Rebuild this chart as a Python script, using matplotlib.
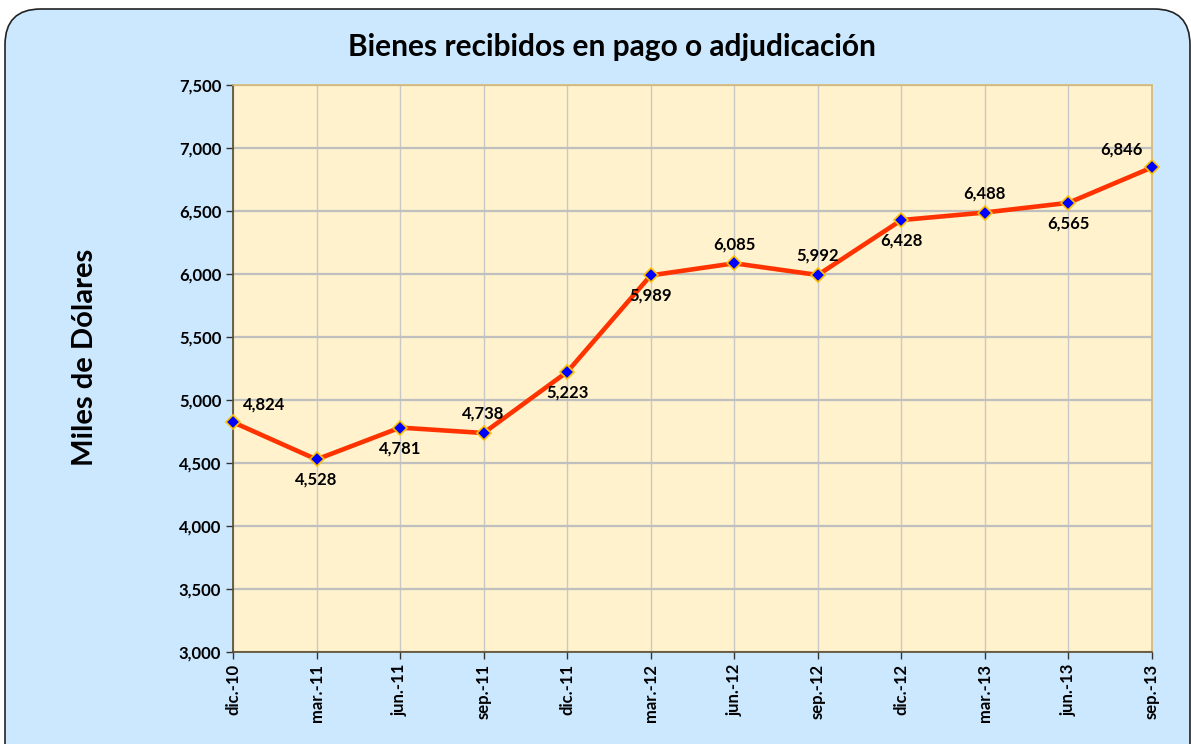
import matplotlib.pyplot as plt
from matplotlib.patches import FancyBboxPatch

periods = ["dic.-10", "mar.-11", "jun.-11", "sep.-11", "dic.-11", "mar.-12",
           "jun.-12", "sep.-12", "dic.-12", "mar.-13", "jun.-13", "sep.-13"]
values = [4824, 4528, 4781, 4738, 5223, 5989, 6085, 5992, 6428, 6488, 6565, 6846]
# where each value label sits relative to its point
label_pos = ["ur", "b", "b", "a", "b", "b", "a", "a", "b", "a", "b", "ul"]

plt.rcParams['font.family'] = ['Lato', 'DejaVu Sans']
plt.rcParams['font.weight'] = 'bold'

fig = plt.figure(figsize=(11.91, 7.44), dpi=100)

# rounded light-blue panel behind everything
panel = FancyBboxPatch((5 / 1191, -0.05), 1185 / 1191, 0.05 + 735 / 744,
                       boxstyle="round,pad=0,rounding_size=0.03",
                       transform=fig.transFigure, facecolor="#cce8ff",
                       edgecolor="#222222", linewidth=1.2, zorder=0,
                       mutation_aspect=1191 / 744)
fig.patches.append(panel)

ax = fig.add_axes([233 / 1191, 92 / 744, 919 / 1191, 567 / 744])
ax.set_zorder(2)
ax.set_facecolor("#fff2cc")

x = list(range(len(values)))
ax.plot(x, values, color="#ff3300", linewidth=3.3, zorder=3, clip_on=False,
        marker="D", markersize=7.5, markerfacecolor="#0000ff",
        markeredgecolor="#ffc000", markeredgewidth=1.2)

offsets = {"a": (0, 8, "center", "bottom"), "b": (0, -9, "center", "top"),
           "ur": (7, 7, "left", "bottom"), "ul": (-7, 7, "right", "bottom")}
for xi, v, p in zip(x, values, label_pos):
    dx, dy, ha, va = offsets[p]
    ax.annotate(f"{v:,}", (xi, v), xytext=(dx, dy), textcoords="offset points",
                ha=ha, va=va, fontsize=12, fontweight="bold", zorder=4)

ax.set_xlim(0, len(values) - 1)
ax.set_ylim(3000, 7500)
ax.set_yticks(range(3000, 7501, 500))
ax.set_yticklabels([f"{t:,}" for t in range(3000, 7501, 500)])
ax.set_xticks(x)
ax.set_xticklabels(periods, rotation=90)
ax.tick_params(axis="both", labelsize=12, length=5, width=1, color="#333333")

ax.grid(axis="y", color="#bfbfbf", linewidth=1.6)
ax.grid(axis="x", color="#c8c8c8", linewidth=1)
ax.set_axisbelow(True)

for side in ["left", "bottom"]:
    ax.spines[side].set_color("#5a4a2a")
    ax.spines[side].set_linewidth(1.2)
for side in ["top", "right"]:
    ax.spines[side].set_color("#d9b872")
    ax.spines[side].set_linewidth(1.2)

fig.text(612 / 1191, 1 - 47 / 744, "Bienes recibidos en pago o adjudicación",
         ha="center", va="center", fontsize=21.5, fontweight="bold", zorder=3)
fig.text(85 / 1191, 1 - 357 / 744, "Miles de Dólares", ha="center", va="center",
         rotation=90, fontsize=21, fontweight="bold", zorder=3)

fig.savefig("out.png", dpi=100)
